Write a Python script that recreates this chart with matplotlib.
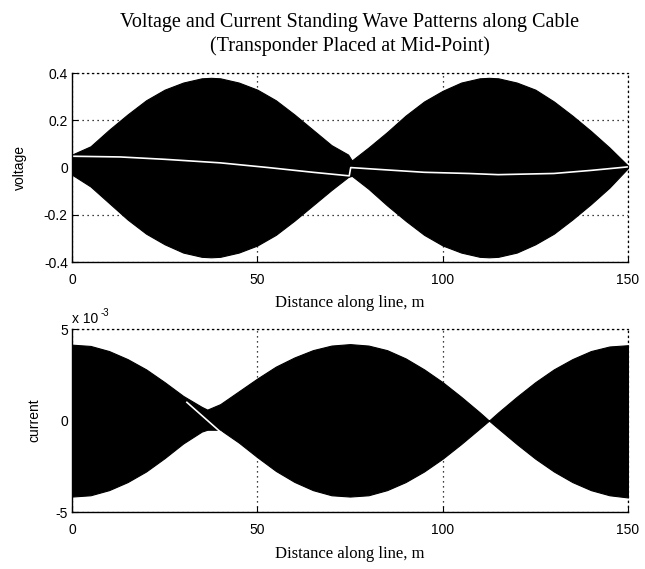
import numpy as np
import matplotlib
matplotlib.use('Agg')
import matplotlib.pyplot as plt

# Voltage envelope (black band), top plot
v_x = [0, 5, 10, 15, 20, 25, 30, 35, 37.5, 40, 45, 50, 55, 60, 65, 70, 74.5, 75.5,
       80, 85, 90, 95, 100, 105, 110, 112.5, 115, 120, 125, 130, 135, 140, 145, 150]
v_upper = [0.055, 0.09, 0.16, 0.225, 0.285, 0.33, 0.36, 0.378, 0.38, 0.378, 0.36, 0.33,
           0.285, 0.225, 0.16, 0.095, 0.055, 0.03, 0.085, 0.15, 0.22, 0.28, 0.325, 0.36,
           0.378, 0.38, 0.378, 0.36, 0.33, 0.28, 0.22, 0.155, 0.085, 0.008]
v_lower = [-0.03, -0.08, -0.15, -0.22, -0.28, -0.325, -0.36, -0.378, -0.38, -0.378, -0.36,
           -0.33, -0.285, -0.225, -0.16, -0.095, -0.04, -0.035, -0.09, -0.16, -0.225, -0.285,
           -0.33, -0.36, -0.378, -0.38, -0.378, -0.36, -0.325, -0.28, -0.22, -0.155, -0.085,
           -0.002]

# white trace inside the voltage band
w_x = [0, 13, 25, 40, 53, 65, 74.8, 75.2, 85, 95, 107, 115, 130, 140, 150]
w_y = [0.048, 0.045, 0.035, 0.02, 0.0, -0.02, -0.035, 0.0, -0.01, -0.02, -0.025, -0.03,
       -0.025, -0.012, 0.003]

# Current envelope, in units of 1e-3
i_x = [0, 5, 10, 15, 20, 25, 30, 35, 36.5, 40, 45, 50, 55, 60, 65, 70, 75, 80, 85, 90,
       95, 100, 105, 110, 112.5, 115, 120, 125, 130, 135, 140, 145, 150]
i_upper = [4.15, 4.08, 3.8, 3.36, 2.8, 2.1, 1.35, 0.75, 0.6, 0.9, 1.6, 2.3, 2.95, 3.45,
           3.85, 4.1, 4.18, 4.1, 3.85, 3.4, 2.8, 2.1, 1.3, 0.45, 0.0, 0.45, 1.3, 2.1, 2.8,
           3.36, 3.8, 4.05, 4.12]
i_lower = [-4.15, -4.08, -3.8, -3.36, -2.78, -2.05, -1.25, -0.6, -0.5, -0.5, -1.2, -2.0,
           -2.75, -3.35, -3.8, -4.08, -4.15, -4.08, -3.8, -3.36, -2.78, -2.08, -1.28, -0.43,
           0.0, -0.43, -1.28, -2.08, -2.78, -3.36, -3.8, -4.08, -4.2]

# white diagonal streak in the current band
seg_x = [31, 50]
seg_y = [1.0, -2.4]

serif = 'Liberation Serif'
sans = 'Liberation Sans'
plt.rcParams['font.family'] = sans
plt.rcParams['axes.unicode_minus'] = False

fig = plt.figure(figsize=(6.45, 5.69), dpi=100)
ax1 = fig.add_axes([0.1116, 0.5395, 0.862, 0.332])
ax2 = fig.add_axes([0.1116, 0.100, 0.862, 0.3216])


def style(ax, yticks, ylim):
    ax.set_xlim(0, 150)
    ax.set_ylim(*ylim)
    ax.set_xticks([0, 50, 100, 150])
    ax.set_yticks(yticks)
    ax.set_axisbelow(True)
    ax.grid(True, color='black', linestyle=(0, (1, 3)), linewidth=0.9)
    ax.tick_params(direction='in', length=4, labelsize=10, top=False, right=False)
    ax.tick_params(axis='x', pad=8)
    ax.tick_params(axis='y', pad=3)
    for side in ['top', 'right']:
        ax.spines[side].set_linestyle((0, (1, 3)))
        ax.spines[side].set_linewidth(0.9)
    for side in ['left', 'bottom']:
        ax.spines[side].set_linewidth(1.0)
    ax.set_xlabel('Distance along line, m', family=serif, fontsize=12, labelpad=6)


ax1.fill_between(v_x, v_lower, v_upper, color='black', linewidth=0.8, edgecolor='black')
ax1.plot(w_x, w_y, color='white', linewidth=1.2)
style(ax1, [-0.4, -0.2, 0, 0.2, 0.4], (-0.4, 0.4))
ax1.set_yticklabels(['-0.4', '-0.2', '0', '0.2', '0.4'])
ax1.set_ylabel('voltage', fontsize=10, labelpad=12)
ax1.set_title('Voltage and Current Standing Wave Patterns along Cable\n'
              '(Transponder Placed at Mid-Point)', family=serif, fontsize=14.5,
              linespacing=1.3, pad=16)

ax2.fill_between(i_x, i_lower, i_upper, color='black', linewidth=0.8, edgecolor='black')
ax2.plot(seg_x, seg_y, color='white', linewidth=1.2)
style(ax2, [-5, 0, 5], (-5, 5))
ax2.set_ylabel('current', fontsize=10, labelpad=10)
ax2.text(0.0, 1.015, 'x 10', transform=ax2.transAxes, fontsize=10, ha='left', va='bottom')
ax2.text(0.052, 1.06, '-3', transform=ax2.transAxes, fontsize=7, ha='left', va='bottom')

fig.savefig('out.png', dpi=100)
